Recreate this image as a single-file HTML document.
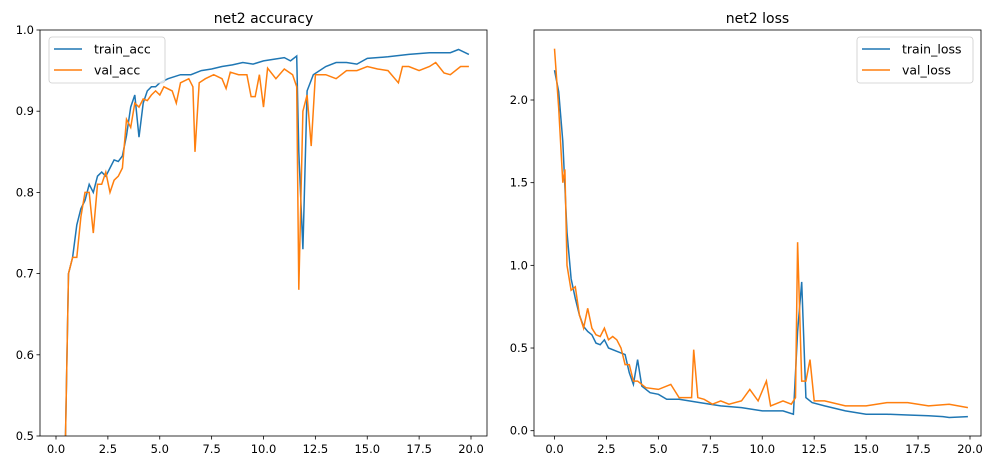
<!DOCTYPE html>
<html><head><meta charset="utf-8"><style>
html,body{margin:0;padding:0;background:#fff;width:989px;height:470px;overflow:hidden;}
svg{display:block;}
svg text{font-family:"DejaVu Sans","Liberation Sans",sans-serif;fill:#000;}
</style></head><body>
<svg id="c" width="989" height="470" xmlns="http://www.w3.org/2000/svg"></svg>
<script>
const xTicks=[0,2.5,5,7.5,10,12.5,15,17.5,20];
const xTickLabels=["0.0","2.5","5.0","7.5","10.0","12.5","15.0","17.5","20.0"];
const accTicks=[0.5,0.6,0.7,0.8,0.9,1.0];
const accTickLabels=["0.5","0.6","0.7","0.8","0.9","1.0"];
const lossTicks=[0,0.5,1,1.5,2];
const lossTickLabels=["0.0","0.5","1.0","1.5","2.0"];
const trainAccX=[0.2,0.4,0.6,0.8,1.0,1.2,1.4,1.6,1.8,2.0,2.2,2.4,2.6,2.8,3.0,3.2,3.4,3.6,3.8,4.0,4.2,4.4,4.6,4.8,5.0,5.4,6.0,6.5,7.0,7.5,8.0,8.5,9.0,9.5,10.0,10.5,11.0,11.3,11.6,11.7,11.9,12.1,12.4,13.0,13.5,14.0,14.5,15.0,16.0,17.0,18.0,19.0,19.4,19.9];
const trainAcc=[0.3,0.42,0.70,0.72,0.76,0.78,0.79,0.81,0.80,0.82,0.825,0.82,0.83,0.84,0.838,0.845,0.87,0.905,0.92,0.868,0.91,0.925,0.93,0.93,0.935,0.94,0.945,0.945,0.95,0.952,0.955,0.957,0.96,0.958,0.962,0.964,0.966,0.962,0.968,0.85,0.73,0.925,0.945,0.955,0.96,0.96,0.958,0.965,0.967,0.97,0.972,0.972,0.976,0.97];
const valAccX=[0.2,0.4,0.6,0.8,1.0,1.2,1.4,1.6,1.8,2.0,2.2,2.4,2.6,2.8,3.0,3.2,3.4,3.6,3.8,4.0,4.2,4.4,4.6,4.8,5.0,5.2,5.6,5.8,6.0,6.4,6.6,6.7,6.9,7.2,7.6,8.0,8.2,8.4,8.8,9.2,9.4,9.6,9.8,10.0,10.2,10.6,11.0,11.4,11.6,11.7,11.9,12.1,12.3,12.5,13.0,13.5,14.0,14.5,15.0,15.5,16.0,16.5,16.7,17.0,17.5,18.0,18.3,18.7,19.0,19.5,19.9];
const valAcc=[0.3,0.42,0.70,0.72,0.72,0.77,0.80,0.80,0.75,0.81,0.81,0.825,0.80,0.815,0.82,0.83,0.89,0.88,0.91,0.905,0.915,0.913,0.92,0.925,0.92,0.93,0.925,0.91,0.935,0.94,0.93,0.85,0.935,0.94,0.945,0.94,0.928,0.948,0.945,0.945,0.918,0.918,0.945,0.905,0.953,0.94,0.952,0.945,0.93,0.68,0.90,0.92,0.857,0.945,0.945,0.94,0.95,0.95,0.955,0.952,0.95,0.935,0.955,0.955,0.95,0.955,0.96,0.947,0.945,0.955,0.955];
const trainLossX=[0.0,0.2,0.4,0.6,0.8,1.0,1.2,1.4,1.6,1.8,2.0,2.2,2.4,2.6,3.0,3.4,3.6,3.8,4.0,4.2,4.6,5.0,5.4,6.0,7.0,8.0,9.0,10.0,11.0,11.5,11.7,11.9,12.1,12.4,13.0,14.0,15.0,16.0,17.0,18.0,18.7,19.0,19.9];
const trainLoss=[2.18,2.05,1.75,1.2,0.92,0.8,0.7,0.63,0.6,0.58,0.53,0.52,0.55,0.5,0.48,0.46,0.35,0.28,0.43,0.27,0.23,0.22,0.19,0.19,0.17,0.15,0.14,0.12,0.12,0.10,0.6,0.9,0.2,0.17,0.15,0.12,0.10,0.10,0.095,0.09,0.085,0.08,0.085];
const valLossX=[0.0,0.2,0.4,0.5,0.6,0.8,1.0,1.2,1.4,1.6,1.8,2.0,2.2,2.4,2.6,2.8,3.0,3.2,3.4,3.6,3.8,4.0,4.4,5.0,5.6,6.0,6.6,6.7,6.9,7.2,7.6,8.0,8.4,9.0,9.4,9.8,10.2,10.4,11.0,11.4,11.6,11.7,11.9,12.1,12.3,12.5,13.0,14.0,15.0,16.0,17.0,18.0,19.0,19.9];
const valLoss=[2.31,1.95,1.5,1.58,1.0,0.85,0.87,0.7,0.62,0.74,0.62,0.58,0.57,0.62,0.55,0.57,0.55,0.5,0.4,0.4,0.3,0.3,0.26,0.25,0.28,0.2,0.2,0.49,0.2,0.19,0.16,0.18,0.16,0.18,0.25,0.18,0.3,0.15,0.18,0.16,0.2,1.14,0.3,0.3,0.43,0.18,0.18,0.15,0.15,0.17,0.17,0.15,0.16,0.14];

const svg=document.getElementById('c');
const NS='http://www.w3.org/2000/svg';
function mk(tag,attrs,parent,text){const e=document.createElementNS(NS,tag);for(const k in attrs)e.setAttribute(k,attrs[k]);if(text!==undefined)e.textContent=text;(parent||svg).appendChild(e);return e;}

function panel(id,L,R,T,B,x0px,x20px,ymin,ymax,yminPx,ymaxPx,yt,ytl,title,series,legendX){
  const g=mk('g',{});
  
  
  const xs=v=>x0px+(x20px-x0px)*v/20;
  const ys=v=>yminPx+(ymaxPx-yminPx)*(v-ymin)/(ymax-ymin);
  const cp=mk('clipPath',{id:id+'-clip'},g);
  mk('rect',{x:L,y:T,width:R-L,height:B-T},cp);
  series.forEach(s=>{
    const p=mk('polyline',{points:s.x.map((v,i)=>xs(v).toFixed(1)+','+ys(s.y[i]).toFixed(1)).join(' '),fill:'none',stroke:s.c,'stroke-width':1.5,'clip-path':'url(#'+id+'-clip)'},g);
    
    
  });
  const fr=mk('rect',{x:L,y:T,width:R-L,height:B-T,fill:'none',stroke:'#000','stroke-width':0.8},g);
  
  
  xTicks.forEach((v,i)=>{
    mk('line',{x1:xs(v),x2:xs(v),y1:B,y2:B+3.5,stroke:'#000','stroke-width':0.8},g);
    const t=mk('text',{x:xs(v),y:B+17,'font-size':11.5,'text-anchor':'middle'},g,xTickLabels[i]);
    
    
  });
  yt.forEach((v,i)=>{
    mk('line',{x1:L-3.5,x2:L,y1:ys(v),y2:ys(v),stroke:'#000','stroke-width':0.8},g);
    const t=mk('text',{x:L-6,y:ys(v)+4,'font-size':11.5,'text-anchor':'end'},g,ytl[i]);
    
    
  });
  const tt=mk('text',{x:(L+R)/2,y:T-7,'font-size':14,'text-anchor':'middle'},g,title);
  
  
  const lg=mk('g',{},g);
  
  
  mk('rect',{x:legendX,y:37,width:116,height:46,rx:3,fill:'#fff','fill-opacity':0.8,stroke:'#ccc','stroke-width':0.8},lg);
  series.forEach((s,i)=>{
    const y=49+i*21;
    mk('line',{x1:legendX+5,x2:legendX+33,y1:y,y2:y,stroke:s.c,'stroke-width':1.5},lg);
    const t=mk('text',{x:legendX+45,y:y+4.5,'font-size':12.5},lg,s.n);
    
    
  });
}
panel('accuracy',40,487,30,436,56,471,0.5,1.0,436,30,accTicks,accTickLabels,'net2 accuracy',
  [{x:trainAccX,y:trainAcc,c:'#1f77b4',n:'train_acc'},{x:valAccX,y:valAcc,c:'#ff7f0e',n:'val_acc'}],49);
panel('loss',534,981,30,436,554.5,970,0,2,430.7,100,lossTicks,lossTickLabels,'net2 loss',
  [{x:trainLossX,y:trainLoss,c:'#1f77b4',n:'train_loss'},{x:valLossX,y:valLoss,c:'#ff7f0e',n:'val_loss'}],857);
</script>
</body></html>
